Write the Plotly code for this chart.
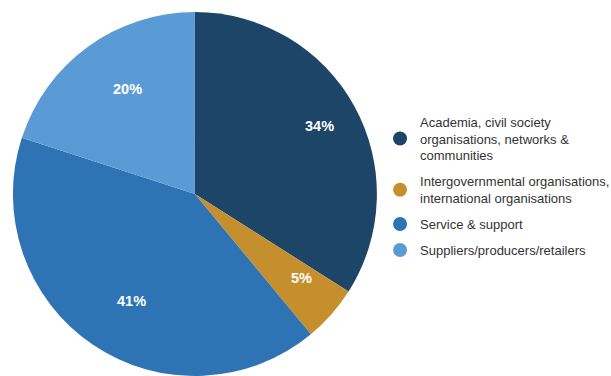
import math
import plotly.graph_objects as go

# Share of respondents by stakeholder group
categories = [
    "Academia, civil society<br>organisations, networks &<br>communities",
    "Intergovernmental organisations,<br>international organisations",
    "Service & support",
    "Suppliers/producers/retailers",
]
shares = [34, 5, 41, 20]
colors = ["#1d4568", "#c68f2e", "#2e74b5", "#5b9bd5"]

# Pie placement (paper fractions) and the radial position of the value labels
PIE_X = [0.021, 0.617]
PIE_Y = [0.0, 0.968]
W, H = 611, 376
LABEL_R = 0.78

fig = go.Figure()

fig.add_trace(go.Pie(
    labels=categories,
    values=shares,
    sort=False,
    direction="clockwise",
    rotation=0,
    marker=dict(colors=colors, line=dict(width=0)),
    textinfo="none",
    showlegend=False,
    hoverinfo="label+percent",
    domain=dict(x=PIE_X, y=PIE_Y),
))

# Percentage labels placed at each slice's mid-angle, pushed toward the rim
cx = (PIE_X[0] + PIE_X[1]) / 2 * W
cy = (PIE_Y[0] + PIE_Y[1]) / 2 * H
radius = min((PIE_X[1] - PIE_X[0]) * W, (PIE_Y[1] - PIE_Y[0]) * H) / 2
total = sum(shares)
cum = 0.0
for v in shares:
    mid = (cum + v / 2) / total * 2 * math.pi  # clockwise from 12 o'clock
    cum += v
    px = cx + LABEL_R * radius * math.sin(mid)
    py = cy + LABEL_R * radius * math.cos(mid)
    fig.add_annotation(
        x=px / W, y=py / H, xref="paper", yref="paper",
        text=f"{round(v / total * 100)}%", showarrow=False,
        font=dict(family="Liberation Sans, Arial", size=14.5, color="white", weight="bold"),
    )

# Round legend markers, one per category (each in its own group for spacing)
for i, (name, col) in enumerate(zip(categories, colors)):
    fig.add_trace(go.Scatter(
        x=[None], y=[None], mode="markers", name=name,
        legendgroup=f"g{i}",
        marker=dict(symbol="circle", size=14, color=col),
        showlegend=True,
    ))

fig.update_layout(
    width=W, height=H,
    margin=dict(l=0, r=0, t=0, b=0, autoexpand=False),
    paper_bgcolor="white",
    plot_bgcolor="white",
    xaxis=dict(visible=False),
    yaxis=dict(visible=False),
    legend=dict(
        x=0.622, xanchor="left",
        y=0.505, yanchor="middle",
        font=dict(family="Liberation Sans, Arial", size=13, color="#333333"),
        tracegroupgap=6,
        itemsizing="trace",
        bgcolor="rgba(0,0,0,0)",
    ),
)

fig.write_html("out.html")
